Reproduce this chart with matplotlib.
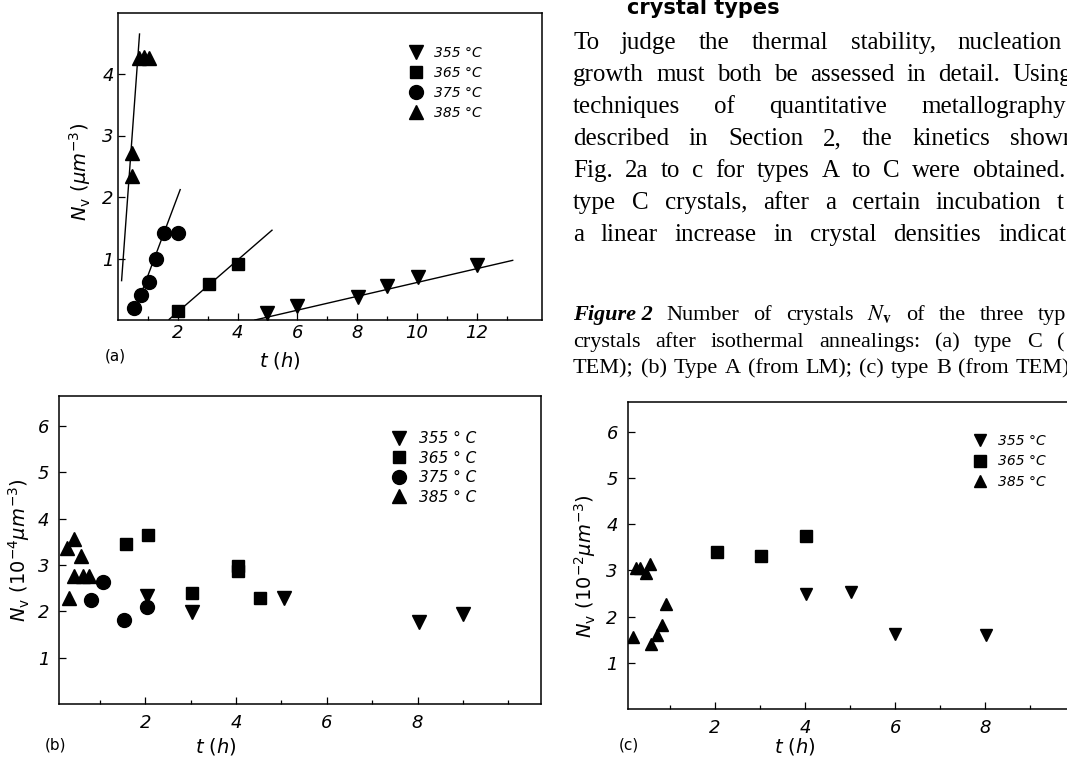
import numpy as np
import matplotlib
matplotlib.use("Agg")
import matplotlib.pyplot as plt
from matplotlib.ticker import FixedLocator

plt.rcParams['mathtext.fontset'] = 'dejavusans'
plt.rcParams['font.family'] = 'DejaVu Sans'

W, H = 1067, 757

# ---------------- data ----------------
temps = ['355', '365', '375', '385']
markers = {'355': 'v', '365': 's', '375': 'o', '385': '^'}

# (a) type C, from TEM  (t in h, Nv in um^-3)
a_t = {'355': [4.98, 6.0, 8.04, 9.0, 10.04, 12.0],
       '365': [2.01, 3.06, 4.02],
       '375': [0.55, 0.78, 1.03, 1.28, 1.54, 2.01],
       '385': [0.46, 0.46, 0.69, 0.86, 1.03]}
a_n = {'355': [0.12, 0.23, 0.37, 0.56, 0.70, 0.89],
       '365': [0.15, 0.58, 0.91],
       '375': [0.20, 0.41, 0.61, 1.00, 1.41, 1.42],
       '385': [2.34, 2.72, 4.26, 4.28, 4.26]}
# hand drawn fit lines (start t, start N, end t, end N)
fit_t0 = {'355': 4.58, '365': 1.71, '375': 0.52, '385': 0.12}
fit_n0 = {'355': 0.0, '365': 0.01, '375': 0.10, '385': 0.64}
fit_t1 = {'355': 13.2, '365': 5.15, '375': 2.08, '385': 0.72}
fit_n1 = {'355': 0.97, '365': 1.46, '375': 2.12, '385': 4.65}

# (b) type A, from LM  (Nv in 1e-4 um^-3)
b_t = {'355': [2.04, 3.04, 5.06, 8.04, 9.0],
       '365': [1.57, 2.07, 3.03, 4.05, 4.05, 4.53],
       '375': [0.81, 1.07, 1.54, 2.04],
       '385': [0.28, 0.43, 0.58, 0.43, 0.62, 0.77, 0.32]}
b_n = {'355': [2.32, 1.98, 2.28, 1.77, 1.94],
       '365': [3.46, 3.64, 2.40, 2.86, 2.97, 2.28],
       '375': [2.24, 2.64, 1.80, 2.10],
       '385': [3.37, 3.56, 3.19, 2.75, 2.75, 2.75, 2.28]}

# (c) type B, from TEM  (Nv in 1e-2 um^-3)
c_t = {'355': [4.01, 5.01, 6.0, 8.02],
       '365': [2.04, 3.01, 4.01],
       '385': [0.18, 0.25, 0.34, 0.47, 0.56, 0.59, 0.71, 0.82, 0.92]}
c_n = {'355': [2.49, 2.54, 1.62, 1.59],
       '365': [3.40, 3.31, 3.75],
       '385': [1.55, 3.06, 3.06, 2.94, 3.14, 1.40, 1.61, 1.81, 2.28]}

heading = 'crystal types'
body_lines = ["To judge the thermal stability, nucleation",
              "growth must both be assessed in detail. Using",
              "techniques of quantitative metallography",
              "described in Section 2, the kinetics shown",
              "Fig. 2a to c for types A to C were obtained.",
              "type C crystals, after a certain incubation t",
              "a linear increase in crystal densities indicat"]
caption_label = 'Figure 2'
caption_lines = ["Number of crystals $N_\\mathbf{v}$ of the three typ",
                 "crystals after isothermal annealings: (a) type C (",
                 "TEM); (b) Type A (from LM); (c) type B (from TEM)"]

fig = plt.figure(figsize=(W / 100, H / 100), dpi=100)


def px_axes(l, t, r, b):
    return fig.add_axes([l / W, 1 - b / H, (r - l) / W, (b - t) / H])


def style(ax, xmaj, xmin, ymaj, fs, pad):
    for s in ax.spines.values():
        s.set_linewidth(1.1)
    ax.xaxis.set_major_locator(FixedLocator(xmaj))
    ax.xaxis.set_minor_locator(FixedLocator(xmin))
    ax.yaxis.set_major_locator(FixedLocator(ymaj))
    ax.tick_params(which='both', direction='in', width=0.9, labelsize=fs)
    ax.tick_params(which='major', length=5, pad=pad)
    ax.tick_params(which='minor', length=3)
    for lab in ax.get_xticklabels() + ax.get_yticklabels():
        lab.set_fontstyle('italic')


def legend(ax, handles, x, y, fs, gap):
    ax.legend(handles=handles, loc='upper left', bbox_to_anchor=(x, y),
              frameon=False, borderpad=0, borderaxespad=0, handlelength=1.0,
              handletextpad=0.8, labelspacing=gap,
              prop={'style': 'italic', 'size': fs})


# ---------------- (a) ----------------
ax = px_axes(118, 12.5, 542, 320)
hs = []
for k in temps:
    ax.plot([fit_t0[k], fit_t1[k]], [fit_n0[k], fit_n1[k]], color='k', lw=1.0)
for k in temps:
    h, = ax.plot(a_t[k], a_n[k], markers[k], color='k', ms=10 if k != '365' else 9,
                 ls='none', label=k + ' °C')
    hs.append(h)
ax.set_xlim(0, 14.18)
ax.set_ylim(0, 5.0)
style(ax, [2, 4, 6, 8, 10, 12], range(1, 14), [1, 2, 3, 4], 13, 3)
legend(ax, hs, 0.687, 0.89, 10, 0.42)
ax.set_xlabel('$t\\ (h)$', fontsize=14)
ax.set_ylabel('$N_\\mathrm{v}\\ (\\mu m^{-3})$', fontsize=14)
ax.xaxis.set_label_coords(0.382, -0.098)
ax.yaxis.set_label_coords(-0.059, 0.48)
fig.text(115 / W, 1 - 356 / H, '(a)', fontsize=11, ha='center', va='center')

# ---------------- (b) ----------------
ax = px_axes(59, 395.5, 541, 703.8)
hs = []
for k in temps:
    h, = ax.plot(b_t[k], b_n[k], markers[k], color='k', ms=10 if k != '365' else 9,
                 ls='none', label=k + ' ° C')
    hs.append(h)
ax.set_xlim(0.1, 10.72)
ax.set_ylim(0, 6.66)
style(ax, [2, 4, 6, 8], range(1, 11), [1, 2, 3, 4, 5, 6], 13, 7)
legend(ax, hs, 0.69, 0.885, 11, 0.3)
ax.set_xlabel('$t\\ (h)$', fontsize=14)
ax.set_ylabel('$N_\\mathrm{v}\\ (10^{-4}\\mu m^{-3})$', fontsize=14)
ax.xaxis.set_label_coords(0.326, -0.104)
ax.yaxis.set_label_coords(-0.056, 0.50)
fig.text(56 / W, 1 - 745 / H, '(b)', fontsize=11, ha='center', va='center')

# ---------------- (c) ----------------
ax = px_axes(627.6, 402, 1108, 709)
hs = []
for k in ['355', '365', '385']:
    h, = ax.plot(c_t[k], c_n[k], markers[k], color='k', ms=9 if k != '365' else 8.5,
                 ls='none', label=k + ' °C')
    hs.append(h)
ax.set_xlim(0.06, 10.72)
ax.set_ylim(0, 6.64)
style(ax, [2, 4, 6, 8], range(1, 11), [1, 2, 3, 4, 5, 6], 13, 7)
legend(ax, hs, 0.719, 0.895, 10, 0.45)
ax.set_xlabel('$t\\ (h)$', fontsize=14)
ax.set_ylabel('$N_\\mathrm{v}\\ (10^{-2}\\mu m^{-3})$', fontsize=14)
ax.xaxis.set_label_coords(0.348, -0.088)
ax.yaxis.set_label_coords(-0.062, 0.465)
fig.text(629 / W, 1 - 745 / H, '(c)', fontsize=11, ha='center', va='center')

# ---------------- page text ----------------
renderer = fig.canvas.get_renderer()
serif = ['Liberation Serif', 'DejaVu Serif']


def justify(words, x0, x1, y, **kw):
    # words: list of (text, extra props); spread them between x0 and x1 (px)
    ts = []
    for w, extra in words:
        props = dict(kw)
        props.update(extra)
        ts.append(fig.text(0, 1 - y / H, w, va='baseline', **props))
    widths = [t.get_window_extent(renderer).width for t in ts]
    gap = (x1 - x0 - sum(widths)) / max(len(ts) - 1, 1)
    x = x0
    for t, w in zip(ts, widths):
        t.set_x(x / W)
        x += w + gap


fig.text(627 / W, 1 - 8 / H, heading, fontsize=15, fontweight='bold',
         va='center')
ys = [49, 81, 113, 145, 177, 209, 241]
ends = [1062, 1072, 1066, 1075, 1065, 1064, 1066]
for line, y, x1 in zip(body_lines, ys, ends):
    justify([(w, {}) for w in line.split()], 573, x1, y, fontsize=18,
            family=serif)

cap_y = [320, 347, 373]
cap_end = [1066, 1064, 1070]
for i, (line, y, x1) in enumerate(zip(caption_lines, cap_y, cap_end)):
    words = [(w, {}) for w in line.split(' ')]
    if i == 0:
        words = [(caption_label, {'style': 'italic', 'fontweight': 'bold'})] + words
    justify(words, 573, x1, y, fontsize=16, family=serif, math_fontfamily='stix')

fig.savefig('out.png', dpi=100)
